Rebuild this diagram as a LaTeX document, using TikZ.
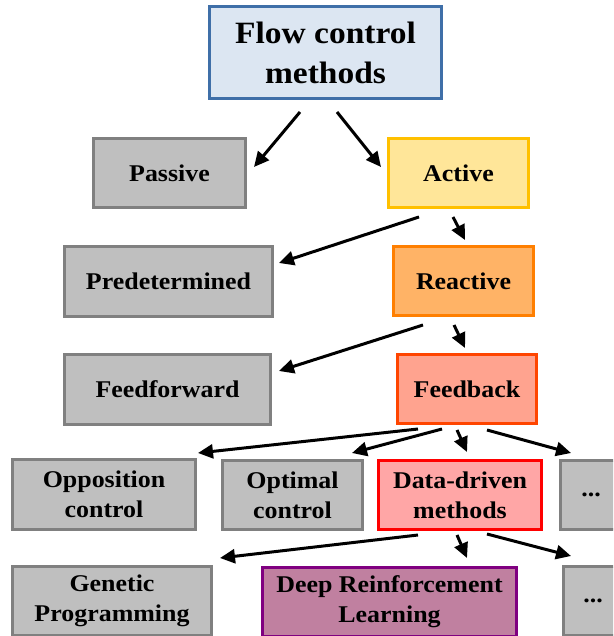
\documentclass[tikz,border=0pt]{standalone}
\usepackage{fontspec}
\setmainfont{Liberation Serif}[FakeStretch=1.08]
\usetikzlibrary{arrows.meta}
\definecolor{topF}{HTML}{DCE6F2}
\definecolor{topB}{HTML}{3F6FA8}
\definecolor{grayF}{HTML}{BFBFBF}
\definecolor{grayB}{HTML}{808080}
\definecolor{actF}{HTML}{FFE699}
\definecolor{actB}{HTML}{FFC000}
\definecolor{reaF}{HTML}{FFB366}
\definecolor{reaB}{HTML}{FF7F00}
\definecolor{fbF}{HTML}{FFA38F}
\definecolor{fbB}{HTML}{FF4500}
\definecolor{ddF}{HTML}{FFA6A6}
\definecolor{ddB}{HTML}{FF0000}
\definecolor{drlF}{HTML}{C080A0}
\definecolor{drlB}{HTML}{800080}
\begin{document}
\begin{tikzpicture}[x=1pt,y=-1pt,
  box/.style={draw, line width=3pt, rectangle, align=center, inner sep=0pt,
    font=\bfseries\fontsize{24}{30}\selectfont},
  graybox/.style={box, draw=grayB, fill=grayF},
  arr/.style={line width=3pt, -{Triangle[length=15pt,width=14pt]}}]
\useasboundingbox (0,0) rectangle (613,636);
\clip (0,0) rectangle (613,636);
% nodes
\node[box, draw=topB, fill=topF, minimum width=232pt, minimum height=92pt,
  font=\bfseries\fontsize{31}{40}\selectfont] (top) at (325.5,52.5) {Flow control\\methods};
\node[graybox, minimum width=152pt, minimum height=69pt] (passive) at (169.5,173) {Passive};
\node[box, draw=actB, fill=actF, minimum width=140pt, minimum height=69pt] (active) at (458.5,173) {Active};
\node[graybox, minimum width=208pt, minimum height=70pt] (predet) at (168.5,281.5) {Predetermined};
\node[box, draw=reaB, fill=reaF, minimum width=140pt, minimum height=69pt] (reactive) at (463.5,281) {Reactive};
\node[graybox, minimum width=206pt, minimum height=70pt] (ff) at (167.5,389.5) {Feedforward};
\node[box, draw=fbB, fill=fbF, minimum width=139pt, minimum height=69pt] (fb) at (467,389) {Feedback};
\node[graybox, minimum width=183pt, minimum height=70pt] (opp) at (104,494.5) {Opposition\\control};
\node[graybox, minimum width=140pt, minimum height=69pt] (opt) at (292.5,495) {Optimal\\control};
\node[box, draw=ddB, fill=ddF, minimum width=163pt, minimum height=69pt] (dd) at (460,495) {Data-driven\\methods};
\node[graybox, minimum width=61pt, minimum height=69pt] (dots1) at (591,495) {...};
\node[graybox, minimum width=199pt, minimum height=69pt] (gp) at (112,601) {Genetic\\Programming};
\node[box, draw=drlB, fill=drlF, minimum width=254pt, minimum height=69pt] (drl) at (389.5,602) {Deep Reinforcement\\Learning};
\node[graybox, minimum width=59pt, minimum height=69pt] (dots2) at (593,601) {...};
% connector end points
\coordinate (a1s) at (300,112); \coordinate (a1e) at (254,167);
\coordinate (a2s) at (337,112); \coordinate (a2e) at (381,167);
\coordinate (b1s) at (419,217); \coordinate (b1e) at (279,263);
\coordinate (b2s) at (453,217); \coordinate (b2e) at (465,240);
\coordinate (c1s) at (423,325); \coordinate (c1e) at (279,371);
\coordinate (c2s) at (454,325); \coordinate (c2e) at (465,348);
\coordinate (d1s) at (418,429); \coordinate (d1e) at (198,453);
\coordinate (d2s) at (442,429); \coordinate (d2e) at (352,453);
\coordinate (d3s) at (457,430); \coordinate (d3e) at (467,452);
\coordinate (d4s) at (487,430); \coordinate (d4e) at (571,453);
\coordinate (e1s) at (418,535); \coordinate (e1e) at (220,558);
\coordinate (e2s) at (457,535); \coordinate (e2e) at (467,558);
\coordinate (e3s) at (487,534); \coordinate (e3e) at (571,556);
% connectors
\draw[arr] (a1s) -- (a1e);
\draw[arr] (a2s) -- (a2e);
\draw[arr] (b1s) -- (b1e);
\draw[arr] (b2s) -- (b2e);
\draw[arr] (c1s) -- (c1e);
\draw[arr] (c2s) -- (c2e);
\draw[arr] (d1s) -- (d1e);
\draw[arr] (d2s) -- (d2e);
\draw[arr] (d3s) -- (d3e);
\draw[arr] (d4s) -- (d4e);
\draw[arr] (e1s) -- (e1e);
\draw[arr] (e2s) -- (e2e);
\draw[arr] (e3s) -- (e3e);
\end{tikzpicture}
\end{document}
